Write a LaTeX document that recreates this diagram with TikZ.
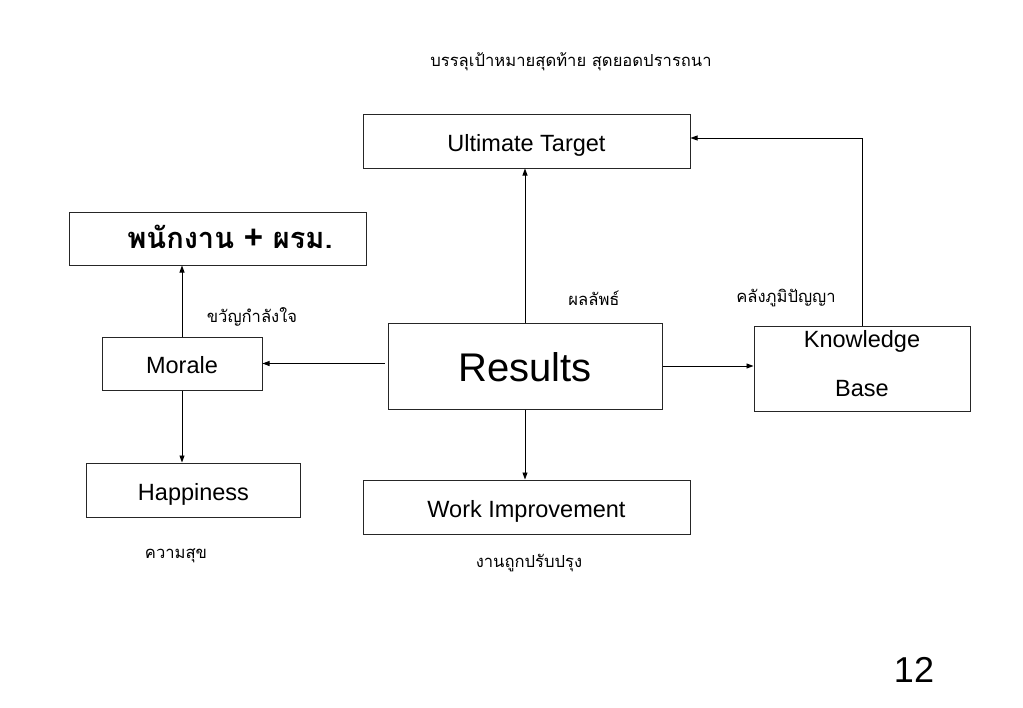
\documentclass[tikz,border=0pt]{standalone}
\usepackage{fontspec}
\setmainfont{Liberation Sans}
\newfontfamily\thaifont[Script=Thai]{Loma}
\usetikzlibrary{arrows.meta}
\tikzset{
  boxbase/.style={draw=black!85, line width=1bp, fill=white, inner sep=0pt, font=\fontsize{23.5bp}{28bp}\selectfont},
  box/.style={boxbase, text height=20bp, text depth=0pt},
  arr/.style={line width=0.9bp, -{Triangle[length=7bp,width=5bp]}},
  thai/.style={inner sep=0pt, font=\thaifont\fontsize{16.6bp}{20bp}\selectfont}
}
\begin{document}
\begin{tikzpicture}[x=1bp,y=-1bp]
\useasboundingbox (0,0) rectangle (1023,708);
\fill[white] (0,0) rectangle (1023,708);
\node[box, minimum width=327bp, minimum height=53bp] (ut) at (526.5,141.5) {Ultimate Target};
\node[box, minimum width=296bp, minimum height=53bp, font=\thaifont\bfseries\fontsize{29bp}{32bp}\selectfont] (pk) at (218,238.5) {\hspace*{24bp}พนักงาน {\fontspec{Liberation Sans}\bfseries\fontsize{33bp}{32bp}\selectfont +} ผรม.};
\node[box, minimum width=160bp, minimum height=53bp] (mo) at (182,363.5) {Morale};
\node[box, minimum width=213bp, minimum height=54bp] (ha) at (193.5,490) {Happiness};
\node[box, minimum width=274bp, minimum height=86bp, text height=31.6bp, font=\fontsize{40bp}{46bp}\selectfont] (re) at (525,366) {Results};
\node[box, minimum width=327bp, minimum height=54bp] (wi) at (526.5,507) {Work Improvement};
\node[boxbase, minimum width=216bp, minimum height=85bp, align=center, text depth=11bp] (kb) at (862,368.5) {Knowledge\\[21bp]Base};

\node[thai] (t1) at (571,62) {บรรลุเป้าหมายสุดท้าย สุดยอดปรารถนา};
\node[thai] (t2) at (594,298) {ผลลัพธ์};
\node[thai] (t3) at (786,298) {คลังภูมิปัญญา};
\node[thai] (t4) at (252,317) {ขวัญกำลังใจ};
\node[thai] (t5) at (176,556) {ความสุข};
\node[thai] (t6) at (529,563) {งานถูกปรับปรุง};
\node[inner sep=0pt, font=\fontsize{36bp}{40bp}\selectfont] (pg) at (914,670) {12};

\draw[arr] (re.north) -- (re.north |- ut.south);
\draw[arr] (kb.north) |- ([yshift=3.5bp]ut.east);
\draw[arr] (mo.north) -- (mo.north |- pk.south);
\draw[arr] (mo.south) -- (mo.south |- ha.north);
\draw[arr] ([xshift=-3bp]re.west |- mo.east) -- (mo.east);
\draw[arr] (re.east) -- (re.east -| kb.west);
\draw[arr] (re.south) -- (re.south |- wi.north);
\end{tikzpicture}
\end{document}
